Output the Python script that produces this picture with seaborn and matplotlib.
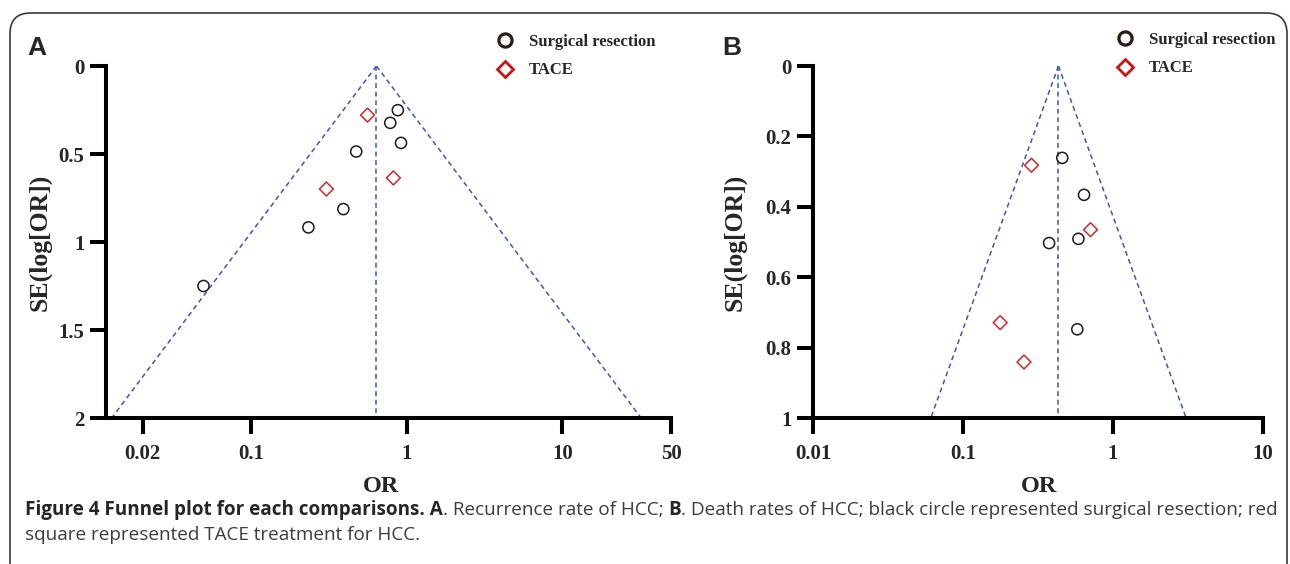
import numpy as np
import pandas as pd
import matplotlib
matplotlib.use("Agg")
import matplotlib.pyplot as plt
from matplotlib.lines import Line2D
from matplotlib.patches import FancyBboxPatch
import seaborn as sns

# ---------------- data ----------------
groups = ["Surgical resection", "TACE"]

a_sr_or = [0.876, 0.783, 0.918, 0.473, 0.391, 0.233, 0.0493]
a_sr_se = [0.251, 0.323, 0.437, 0.486, 0.813, 0.917, 1.25]
a_tace_or = [0.559, 0.82, 0.304]
a_tace_se = [0.279, 0.636, 0.699]
a_pooled_or = 0.638
a_se_max = 2.0
a_xticks = [0.02, 0.1, 1, 10, 50]
a_xticklabels = ["0.02", "0.1", "1", "10", "50"]
a_yticks = [0, 0.5, 1, 1.5, 2]
a_yticklabels = ["0", "0.5", "1", "1.5", "2"]

b_sr_or = [0.459, 0.641, 0.588, 0.375, 0.578]
b_sr_se = [0.261, 0.366, 0.491, 0.503, 0.748]
b_tace_or = [0.286, 0.708, 0.177, 0.255]
b_tace_se = [0.282, 0.465, 0.729, 0.841]
b_pooled_or = 0.433
b_se_max = 1.0
b_xticks = [0.01, 0.1, 1, 10]
b_xticklabels = ["0.01", "0.1", "1", "10"]
b_yticks = [0, 0.2, 0.4, 0.6, 0.8, 1]
b_yticklabels = ["0", "0.2", "0.4", "0.6", "0.8", "1"]

# ---------------- style ----------------
sns.set_theme(style="white")
plt.rcParams["font.family"] = ["Liberation Serif", "DejaVu Serif"]

W, H = 1290, 564
fig = plt.figure(figsize=(W / 100, H / 100), dpi=100)

def px_axes(x0, x1, ytop, ybot):
    return fig.add_axes([x0 / W, 1 - ybot / H, (x1 - x0) / W, (ybot - ytop) / H])

BLUE = "#3f56b8"
BLACK = "#1e1a18"
RED = "#d02828"
SPINE_W = 2.9
TICK_FS = 15


def funnel_panel(ax, sr_or, sr_se, tace_or, tace_se, pooled, se_max,
                 xlim, xticks, xticklabels, yticks, yticklabels):
    se_line = np.array([0.0, se_max])
    lo = pooled * np.exp(-1.96 * se_line)
    hi = pooled * np.exp(1.96 * se_line)
    ls = (0, (3.2, 2.4))
    sns.lineplot(x=lo, y=se_line, estimator=None, sort=False, color=BLUE,
                 lw=1.1, linestyle=ls, ax=ax)
    sns.lineplot(x=hi, y=se_line, estimator=None, sort=False, color=BLUE,
                 lw=1.1, linestyle=ls, ax=ax)
    sns.lineplot(x=[pooled, pooled], y=se_line, estimator=None, sort=False,
                 color=BLUE, lw=1.1, linestyle=ls, ax=ax)

    df_sr = pd.DataFrame({"OR": sr_or, "SE": sr_se})
    df_tc = pd.DataFrame({"OR": tace_or, "SE": tace_se})
    sns.scatterplot(data=df_sr, x="OR", y="SE", marker="o", s=64,
                    facecolors="none", edgecolor=BLACK, linewidth=1.1, ax=ax,
                    zorder=5)
    sns.scatterplot(data=df_tc, x="OR", y="SE", marker="D", s=50,
                    facecolors="none", edgecolor=RED, linewidth=1.1, ax=ax,
                    zorder=5)

    ax.set_xscale("log")
    ax.set_xlim(*xlim)
    ax.set_ylim(se_max, 0)
    ax.set_xticks(xticks)
    ax.set_xticklabels(xticklabels)
    ax.xaxis.set_minor_locator(matplotlib.ticker.NullLocator())
    ax.set_yticks(yticks)
    ax.set_yticklabels(yticklabels)
    for s in ["top", "right"]:
        ax.spines[s].set_visible(False)
    for s in ["left", "bottom"]:
        ax.spines[s].set_linewidth(SPINE_W)
        ax.spines[s].set_color("black")
        ax.spines[s].set_capstyle("projecting")
    ax.tick_params(axis="both", which="major", direction="out", length=11.5,
                   width=SPINE_W, color="black", labelsize=TICK_FS,
                   bottom=True, left=True, top=False, right=False)
    ax.tick_params(axis="x", pad=7)
    ax.tick_params(axis="y", pad=4)
    for lab in ax.get_xticklabels() + ax.get_yticklabels():
        lab.set_fontweight("bold")
    ax.set_xlabel("OR", fontsize=17.5, fontweight="bold", va="center")
    ax.set_ylabel("SE(log[OR])", fontsize=18.5, fontweight="bold", va="center")
    ax.set_facecolor("none")
    ax.grid(False)


axA = px_axes(106, 671, 66, 418)
funnel_panel(axA, a_sr_or, a_sr_se, a_tace_or, a_tace_se, a_pooled_or, a_se_max,
             (0.01164, 50), a_xticks, a_xticklabels, a_yticks, a_yticklabels)
axA.xaxis.set_label_coords((381 - 106) / 565, (418 - 487) / 352)
axA.yaxis.set_label_coords((40 - 106) / 565, 0.5)

axB = px_axes(813, 1263, 66, 418)
funnel_panel(axB, b_sr_or, b_sr_se, b_tace_or, b_tace_se, b_pooled_or, b_se_max,
             (0.01, 10), b_xticks, b_xticklabels, b_yticks, b_yticklabels)
axB.xaxis.set_label_coords((1039 - 813) / 450, (418 - 487) / 352)
axB.yaxis.set_label_coords((735 - 813) / 450, 0.5)

# legends
def add_legend(x_handle_left, y_top):
    handles = [
        Line2D([], [], marker="o", ls="none", markersize=9.5, markeredgewidth=2.3,
               markerfacecolor="none", markeredgecolor="#2a1c16"),
        Line2D([], [], marker="D", ls="none", markersize=8.0, markeredgewidth=2.0,
               markerfacecolor="none", markeredgecolor="#c81414"),
    ]
    fig.legend(handles, groups, loc="upper left",
               bbox_to_anchor=(x_handle_left / W, 1 - y_top / H),
               frameon=False, borderpad=0, borderaxespad=0,
               handlelength=1.0, handletextpad=0.9, labelspacing=0.75,
               prop={"family": "Liberation Serif", "weight": "bold", "size": 12})

add_legend(497, 34)
add_legend(1117, 32)

# panel letters
for x, lab in [(27, "A"), (722, "B")]:
    fig.text(x / W, 1 - 55 / H, lab, fontsize=19, fontweight="bold",
             family="Liberation Sans", va="baseline", ha="left")

# frame
frame = FancyBboxPatch((10 / W, -0.2), (1287 - 10) / W, (1 - 13 / H) + 0.2,
                       boxstyle="round,pad=0,rounding_size=0.016",
                       transform=fig.transFigure, fill=False,
                       edgecolor="#3a3a3a", linewidth=1.2, mutation_aspect=W / H)
fig.add_artist(frame)

# caption
CAP_FAMILY = ["Open Sans", "DejaVu Sans"]
CAP_COLOR = "#3c3c3c"
cap_line1 = [("Figure 4 Funnel plot for each comparisons. A", "bold"),
             (". Recurrence rate of HCC; ", "normal"),
             ("B", "bold"),
             (". Death rates of HCC; black circle represented surgical resection; red", "normal")]
cap_line2 = [("square represented TACE treatment for HCC.", "normal")]

renderer = fig.canvas.get_renderer()

def draw_runs(runs, x0, ybase, fs):
    x = x0
    texts = []
    for txt, wt in runs:
        t = fig.text(x / W, 1 - ybase / H, txt, fontsize=fs, fontweight=wt,
                     family=CAP_FAMILY,
                     color=CAP_COLOR if wt == "normal" else "#262626",
                     va="baseline", ha="left")
        bb = t.get_window_extent(renderer)
        x += bb.width
        texts.append(t)
    return x, texts

# fit caption font size so that line 1 spans x = 25 .. 1275
fs0 = 12.0
end, tmp = draw_runs(cap_line1, 25, 515, fs0)
for t in tmp:
    t.remove()
fs = fs0 * (1275 - 25) / (end - 25)

draw_runs(cap_line1, 25, 515, fs)
draw_runs(cap_line2, 25, 540, fs)

fig.savefig("out.png", dpi=100)
